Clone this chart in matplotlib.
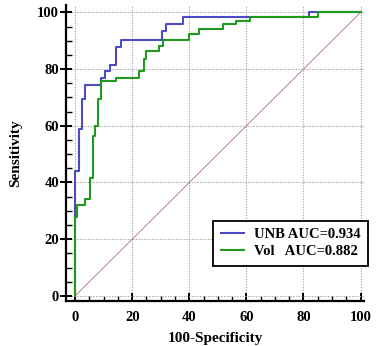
import matplotlib
matplotlib.use("Agg")
import matplotlib.pyplot as plt
from matplotlib.ticker import MultipleLocator

# ROC vertices (100-Specificity, Sensitivity)
unb_x = [0, 0, 1.5, 2.3, 3.3, 8.9, 10.6, 12.3, 14.3, 16.1, 30.3, 32.0, 37.9, 82.0, 100]
unb_y = [0, 43.9, 58.7, 69.3, 74.3, 76.9, 79.3, 81.6, 87.8, 90.2, 93.4, 95.9, 98.4, 100, 100]

vol_x = [0, 0, 0.6, 3.6, 5.2, 6.2, 7.1, 8.0, 8.9, 14.3, 22.4, 24.0, 25.0, 29.5, 30.8,
         40.0, 43.3, 51.9, 56.5, 61.2, 85.1, 100]
vol_y = [0, 28.0, 32.0, 34.3, 41.6, 56.3, 59.8, 69.3, 75.7, 76.9, 79.3, 83.6, 86.3, 88.2, 90.2,
         92.5, 94.0, 95.8, 97.0, 98.4, 100, 100]

ref_x = [0, 100]
ref_y = [0, 100]

labels = ["UNB AUC=0.934", "Vol   AUC=0.882"]
ticks = [0, 20, 40, 60, 80, 100]

serif = ["Liberation Serif", "DejaVu Serif"]

fig = plt.figure(figsize=(3.76, 3.46), dpi=100)
ax = fig.add_axes([66/376, 45/346, (364-66)/376, (341-45)/346])

ax.plot(ref_x, ref_y, color="#b07272", lw=0.6, zorder=2)
ax.plot(unb_x, unb_y, drawstyle="steps-post", color="#4b4bc4", lw=1.5, label=labels[0], zorder=3)
ax.plot(vol_x, vol_y, drawstyle="steps-post", color="#1f9a1f", lw=1.5, label=labels[1], zorder=4)

ax.set_xlim(-3.2, 101.2)
ax.set_ylim(-1.8, 102.6)
ax.set_xticks(ticks)
ax.set_yticks(ticks)
ax.xaxis.set_minor_locator(MultipleLocator(5))
ax.yaxis.set_minor_locator(MultipleLocator(5))

for s in ["top", "right"]:
    ax.spines[s].set_visible(False)
for s in ["left", "bottom"]:
    ax.spines[s].set_linewidth(1.6)

ax.tick_params(axis="x", which="major", length=6, width=1.4, direction="in", pad=7)
ax.tick_params(axis="x", which="minor", length=3.5, width=1.0, direction="in")
ax.tick_params(axis="y", which="major", length=8, width=1.4, direction="inout", pad=1)
ax.tick_params(axis="y", which="minor", length=4, width=1.0, direction="in")
ax.grid(True, which="major", linestyle=(0, (1.2, 1.2)), color="#aaaaaa", lw=0.8, zorder=1)

for lab in ax.get_xticklabels() + ax.get_yticklabels():
    lab.set_fontfamily(serif)
    lab.set_fontweight("bold")
    lab.set_fontsize(10.5)

ax.set_xlabel("100-Specificity", fontfamily=serif, fontweight="bold", fontsize=11, labelpad=6)
ax.set_ylabel("Sensitivity", fontfamily=serif, fontweight="bold", fontsize=11, labelpad=11)

leg = ax.legend(loc="upper right", bbox_to_anchor=(368/376, 1 - 221/346),
                bbox_transform=fig.transFigure, borderaxespad=0,
                prop={"family": serif, "weight": "bold", "size": 10.5},
                fancybox=False, framealpha=1, edgecolor="black",
                handlelength=1.6, handletextpad=0.7, borderpad=0.5, labelspacing=0.25)
leg.get_frame().set_linewidth(1.3)
leg.set_zorder(10)

fig.savefig("out.png", dpi=100)
